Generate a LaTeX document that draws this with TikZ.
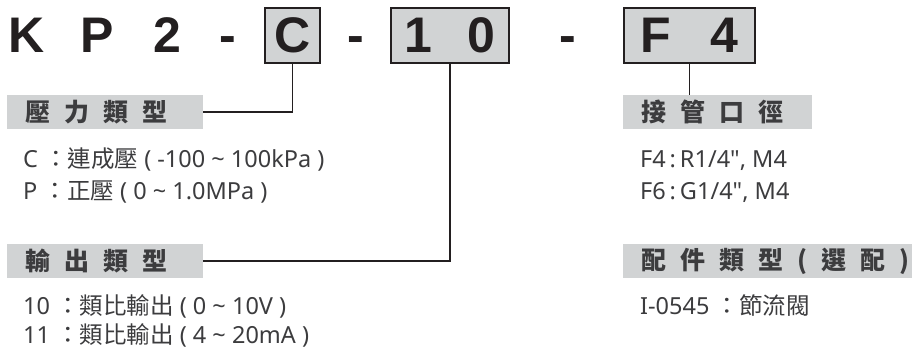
\documentclass[tikz,border=0pt]{standalone}
\usepackage{fontspec}
\setmainfont{Noto Sans}[Ligatures=TeXOff]
\newfontfamily\cjk{Noto Sans CJK TC}
\newfontfamily\titlefont{Liberation Sans}
\usetikzlibrary{positioning}
\definecolor{gray1}{RGB}{35,31,32}
\definecolor{gray2}{RGB}{60,60,62}
\definecolor{gray4}{RGB}{209,211,212}
\newcommand{\hgap}{\kern14pt\relax}

\begin{document}
\begin{tikzpicture}[x=1pt, y=-1pt]

\tikzstyle{title}		=[text=gray1, inner sep=0pt, anchor=base, font=\titlefont\bfseries\fontsize{50}{50}\selectfont]
\tikzstyle{code}		=[title, draw=gray1, fill=gray4, line width=2.2pt, minimum height=55pt, anchor=center]
\tikzstyle{band}		=[rectangle, fill=gray4, text=gray2, anchor=west, minimum height=34pt, inner xsep=18pt, inner ysep=0pt, align=left, font=\cjk\bfseries\fontsize{25}{25}\selectfont]
\tikzstyle{item}		=[text=gray2, inner sep=0pt, anchor=base west, font=\fontsize{23.5}{23.5}\selectfont]
\tikzstyle{connection}	=[line width=1.8pt, draw=gray1]

\useasboundingbox (0,0) rectangle (912,350);

\node[title] 					(tK)  at (27,53)		{K};
\node[title] 					(tP)  at (97,53)		{P};
\node[title] 					(t2)  at (167,53)		{2};
\node[title] 					(d1)  at (228,53)		{-};
\node[code, minimum width=55pt] 	(bC)  at (292.5,35.5)	{C};
\node[title] 					(d2)  at (355.5,53)	{-};
\node[code, minimum width=118pt] 	(b10) at (450,35.5)	{1\kern36pt 0};
\node[title] 					(d3)  at (567.5,53)	{-};
\node[code, minimum width=131pt] 	(bF)  at (689.5,35.5)	{F\kern40pt 4};

\node[band, text width=160pt] 	(hPress) at (7,112)	{壓\hgap 力\hgap 類\hgap 型};
\node[band, text width=160pt] 	(hOut)   at (7,261)	{輸\hgap 出\hgap 類\hgap 型};
\node[band, text width=153pt] 	(hPort)  at (623,112)	{接\hgap 管\hgap 口\hgap 徑};
\node[band, text width=280pt] 	(hAcc)   at (623,261)	{配\hgap 件\hgap 類\hgap 型\hgap (\hgap 選\hgap 配\hgap )};

\node[item] 	(iC)  at (23,167)	{C {\cjk ：連成壓} ( -100 \textasciitilde\ 100kPa )};
\node[item] 	(iP)  at (23,199)	{P {\cjk ：正壓} ( 0 \textasciitilde\ 1.0MPa )};
\node[item] 	(i10) at (23,314)	{10 {\cjk ：類比輸出} ( 0 \textasciitilde\ 10V )};
\node[item] 	(i11) at (23,343)	{11 {\cjk ：類比輸出} ( 4 \textasciitilde\ 20mA )};
\node[item] 	(iF4) at (640,167)	{F4\,:\,R1/4", M4};
\node[item] 	(iF6) at (640,199)	{F6\,:\,G1/4", M4};
\node[item] 	(iI)  at (640,314)	{I-0545 {\cjk ：節流閥}};

\draw [connection]  (bC.south) |- (hPress.east);
\draw [connection]  (b10.south) |- (hOut.east);
\draw [connection]  (bF.south) -- (bF.south |- hPort.north);

\end{tikzpicture}
\end{document}
